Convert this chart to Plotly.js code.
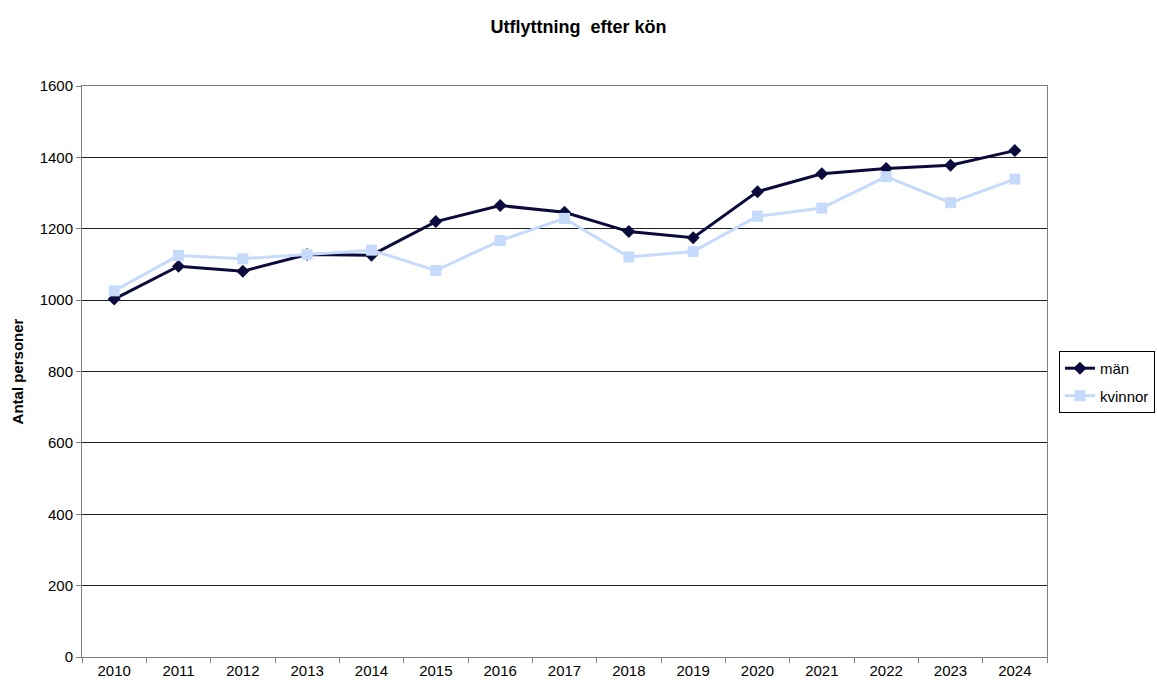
<!DOCTYPE html>
<html>
<head>
<meta charset="utf-8">
<script src="https://cdn.plot.ly/plotly-3.0.1.min.js"></script>
<style>html,body{margin:0;padding:0;background:#fff;}#chart{width:1157px;height:686px;}</style>
</head>
<body>
<div id="chart"></div>
<script>
const years = ["2010","2011","2012","2013","2014","2015","2016","2017","2018","2019","2020","2021","2022","2023","2024"];
const man = [1003,1095,1081,1128,1126,1220,1265,1246,1192,1175,1304,1354,1369,1378,1419];
const kvinnor = [1026,1125,1116,1128,1140,1083,1167,1229,1121,1136,1235,1258,1346,1273,1339];
const yTicks = [0,200,400,600,800,1000,1200,1400,1600];

const traces = [
  {x: years, y: man, name: "män", type: "scatter", mode: "lines+markers", legendgroup: "a",
   line: {color: "#0a0a3c", width: 3}, marker: {symbol: "diamond", size: 10, color: "#0a0a3c"}},
  {x: years, y: kvinnor, name: "kvinnor", type: "scatter", mode: "lines+markers", legendgroup: "b",
   line: {color: "#c6dbfb", width: 3}, marker: {symbol: "square", size: 11, color: "#c6dbfb"}}
];

const layout = {
  width: 1157, height: 686,
  margin: {l: 82, r: 110, t: 86, b: 29, autoexpand: false},
  paper_bgcolor: "#fff", plot_bgcolor: "#fff",
  font: {family: "Liberation Sans, Arial, sans-serif", size: 15, color: "#000"},
  title: {text: "<b>Utflyttning  efter kön</b>", x: 0.5, xanchor: "center", y: 0.961, yanchor: "middle",
          font: {size: 18, color: "#000"}},
  xaxis: {type: "category", tickson: "boundaries", ticks: "outside", ticklen: 5, tickcolor: "#808080",
          showgrid: false, showline: true, linecolor: "#808080", linewidth: 1, mirror: true,
          range: [-0.5, 14.5], tickfont: {size: 15}, fixedrange: true},
  yaxis: {range: [0, 1600], tickvals: yTicks, ticks: "outside", ticklen: 5, tickcolor: "#808080",
          showgrid: true, gridcolor: "#202020", gridwidth: 1, zeroline: false,
          showline: true, linecolor: "#808080", linewidth: 1, mirror: true,
          title: {text: "<b>Antal personer</b>", font: {size: 15}, standoff: 12},
          tickfont: {size: 15}},
  legend: {x: 1.0124, xanchor: "left", y: 0.536, yanchor: "top",
           bordercolor: "#000", borderwidth: 1, bgcolor: "#fff",
           font: {size: 15}, tracegroupgap: 5, itemwidth: 30},
  showlegend: true
};

Plotly.newPlot("chart", traces, layout, {displayModeBar: false, staticPlot: true});
</script>
</body>
</html>
